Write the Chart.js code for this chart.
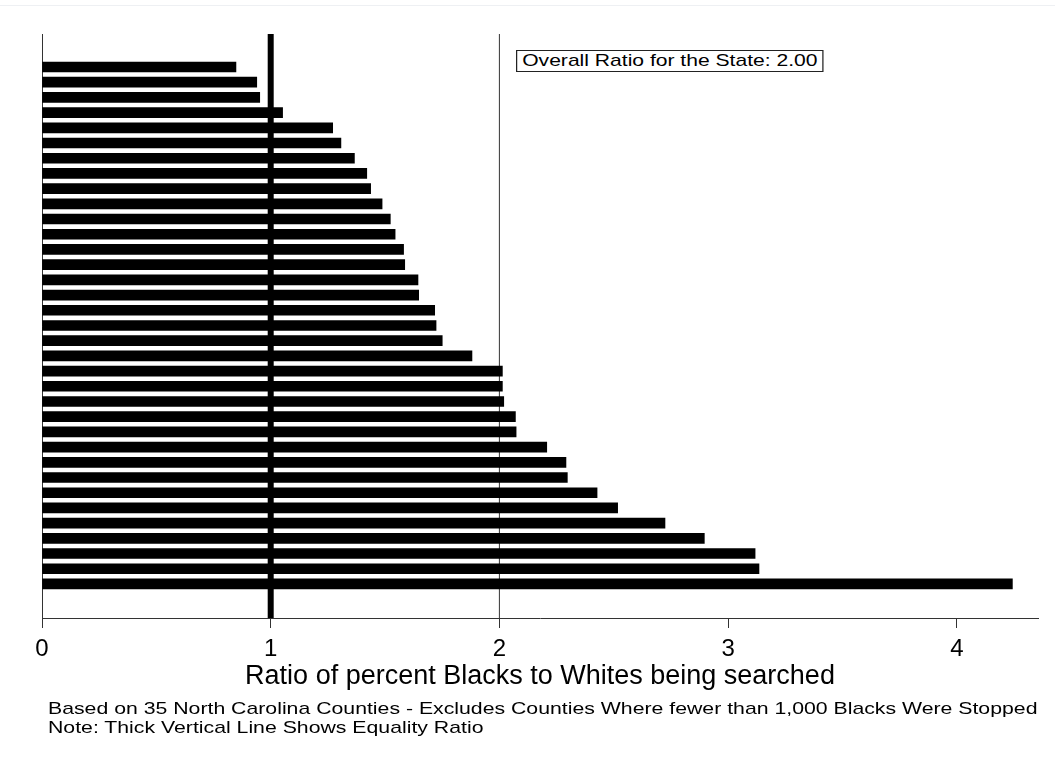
<!DOCTYPE html>
<html>
<head>
<meta charset="utf-8">
<script src="https://cdn.jsdelivr.net/npm/chart.js@4/dist/chart.umd.min.js"></script>
<style>
  html, body { margin: 0; padding: 0; background: #fff; }
  body { width: 1055px; height: 770px; position: relative; overflow: hidden; font-family: "Liberation Sans", Arial, sans-serif; }
  #wrap { position: absolute; left: 0; top: 0; width: 1055px; height: 770px; }
  .topline { position: absolute; left: 0; top: 5px; width: 1055px; height: 1px; background: #eef0f3; }
  .statebox { position: absolute; left: 516px; top: 50px; height: 20px; line-height: 20px; padding: 0 4px; border: 1px solid #222; font-size: 17px; color: #000; background: #fff; white-space: nowrap; transform: scaleX(1.24); transform-origin: 0 0; }
  .notes { position: absolute; left: 48px; top: 699px; font-size: 17px; line-height: 19px; color: #000; white-space: nowrap; transform: scaleX(1.25); transform-origin: 0 0; }
</style>
</head>
<body>
<div class="topline"></div>
<div id="wrap"><canvas id="chart" width="1055" height="770"></canvas></div>
<div class="statebox" id="statebox"></div>
<div class="notes" id="notes"></div>
<script>
// search ratio (black % searched / white % searched), one bar per county, sorted
const ratios = [
  0.848, 0.939, 0.952, 1.052, 1.271, 1.307, 1.366, 1.420, 1.437, 1.487,
  1.523, 1.544, 1.581, 1.586, 1.644, 1.647, 1.717, 1.723, 1.750, 1.880,
  2.013, 2.013, 2.019, 2.070, 2.073, 2.207, 2.291, 2.297, 2.427, 2.517,
  2.724, 2.896, 3.118, 3.135, 4.243
];
const xTicks = [0, 1, 2, 3, 4];
const equalityRatio = 1;
const stateRatio = 2.00;

const axisTitle = 'Ratio of percent Blacks to Whites being searched';
const noteLines = [
  'Based on 35 North Carolina Counties - Excludes Counties Where fewer than 1,000 Blacks Were Stopped',
  'Note: Thick Vertical Line Shows Equality Ratio'
];

document.getElementById('statebox').textContent = 'Overall Ratio for the State: ' + stateRatio.toFixed(2);
document.getElementById('notes').innerHTML = noteLines.join('<br>');

const refLines = {
  id: 'refLines',
  beforeDatasetsDraw(chart) {
    const { ctx, chartArea, scales } = chart;
    const drawAt = (v, w, color) => {
      const x = scales.x.getPixelForValue(v);
      ctx.save();
      ctx.strokeStyle = color;
      ctx.lineWidth = w;
      ctx.beginPath();
      ctx.moveTo(x, chartArea.top);
      ctx.lineTo(x, chartArea.bottom);
      ctx.stroke();
      ctx.restore();
    };
    drawAt(stateRatio, 1, '#333');
    drawAt(equalityRatio, 6, '#000');
  }
};

const ctx = document.getElementById('chart').getContext('2d');
const myChart = new Chart(ctx, {
  type: 'bar',
  data: {
    datasets: [{
      data: ratios.map((v, i) => ({ x: v, y: i })),
      backgroundColor: '#000',
      borderWidth: 0,
      barThickness: 10
    }]
  },
  options: {
    indexAxis: 'y',
    responsive: false,
    animation: false,
    events: [],
    layout: { padding: { left: 42, right: 17, top: 34, bottom: 73 } },
    plugins: { legend: { display: false }, tooltip: { enabled: false } },
    scales: {
      x: {
        type: 'linear',
        min: 0,
        max: 4.355,
        afterBuildTicks: (s) => { s.ticks = xTicks.map(v => ({ value: v })); },
        afterFit: (s) => { s.height = 79; },
        border: { display: true, color: '#333', width: 1 },
        grid: { drawOnChartArea: false, drawTicks: true, tickLength: 10, color: '#333' },
        ticks: { color: '#000', padding: 7, maxRotation: 0, font: { family: 'Liberation Sans', size: 24 } },
        title: {
          display: true,
          text: axisTitle,
          color: '#000',
          padding: { top: 0, bottom: 4 },
          font: { family: 'Liberation Sans', size: 27 }
        }
      },
      y: {
        type: 'linear',
        reverse: true,
        offset: false,
        min: -2.17,
        max: 36.24,
        afterFit: (s) => { s.width = 0; },
        border: { display: true, color: '#333', width: 1 },
        grid: { display: false, drawTicks: false, offset: false },
        ticks: { display: false }
      }
    }
  },
  plugins: [refLines]
});
</script>
</body>
</html>
